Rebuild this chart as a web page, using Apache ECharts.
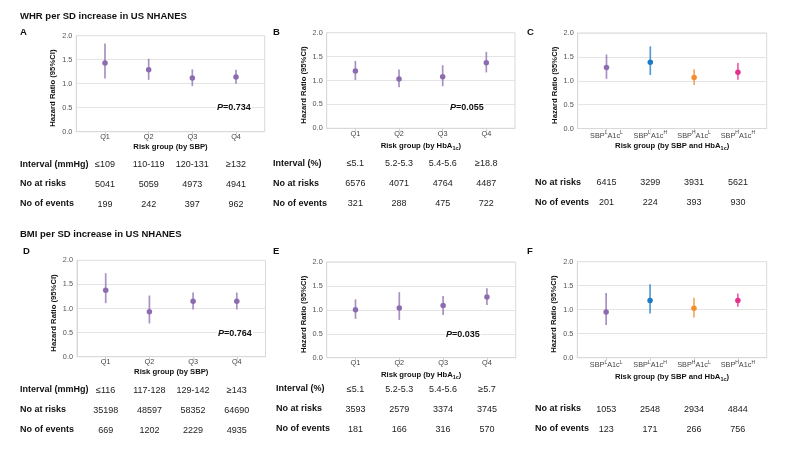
<!DOCTYPE html>
<html>
<head>
<meta charset="utf-8">
<script src="https://cdn.jsdelivr.net/npm/echarts@6/dist/echarts.min.js"></script>
<style>html,body{margin:0;padding:0;background:#fff}#c{width:800px;height:450px}</style>
</head>
<body>
<div id="c"></div>
<script>
// ---------- data ----------
const qCats = ['Q1', 'Q2', 'Q3', 'Q4'];
const comboCats = ['{a|SBP}{s|L}{a|A1c}{s|L}', '{a|SBP}{s|L}{a|A1c}{s|H}', '{a|SBP}{s|H}{a|A1c}{s|L}', '{a|SBP}{s|H}{a|A1c}{s|H}'];
const comboColors = ['#8c6bb1', '#1f7ac4', '#f28e2b', '#e4308f'];
const purple = '#8c6bb1';

const hrA = [1.43, 1.29, 1.12, 1.14], loA = [1.11, 1.08, 0.95, 1.00], hiA = [1.84, 1.52, 1.30, 1.29];
const hrB = [1.20, 1.03, 1.08, 1.37], loB = [1.01, 0.86, 0.88, 1.17], hiB = [1.41, 1.23, 1.32, 1.60];
const hrC = [1.28, 1.39, 1.07, 1.18], loC = [1.04, 1.12, 0.91, 1.02], hiC = [1.55, 1.72, 1.24, 1.37];
const hrD = [1.38, 0.93, 1.15, 1.15], loD = [1.11, 0.69, 0.98, 0.98], hiD = [1.73, 1.27, 1.33, 1.33];
const hrE = [1.00, 1.04, 1.09, 1.27], loE = [0.81, 0.79, 0.89, 1.10], hiE = [1.22, 1.37, 1.29, 1.45];
const hrF = [0.95, 1.19, 1.03, 1.19], loF = [0.68, 0.92, 0.84, 1.06], hiF = [1.35, 1.53, 1.25, 1.34];

const intervalA = ['≤109', '110-119', '120-131', '≥132'];
const risksA = ['5041', '5059', '4973', '4941'];
const eventsA = ['199', '242', '397', '962'];
const intervalB = ['≤5.1', '5.2-5.3', '5.4-5.6', '≥18.8'];
const risksB = ['6576', '4071', '4764', '4487'];
const eventsB = ['321', '288', '475', '722'];
const risksC = ['6415', '3299', '3931', '5621'];
const eventsC = ['201', '224', '393', '930'];
const intervalD = ['≤116', '117-128', '129-142', '≥143'];
const risksD = ['35198', '48597', '58352', '64690'];
const eventsD = ['669', '1202', '2229', '4935'];
const intervalE = ['≤5.1', '5.2-5.3', '5.4-5.6', '≥5.7'];
const risksE = ['3593', '2579', '3374', '3745'];
const eventsE = ['181', '166', '316', '570'];
const risksF = ['1053', '2548', '2934', '4844'];
const eventsF = ['123', '171', '266', '756'];

const pValues = ['0.734', '0.055', null, '0.764', '0.035', null];

// ---------- layout ----------
const FF = '"Liberation Sans", Arial, sans-serif';
const XMIN = 0.343, XMAX = 4.657;
const pos = [1, 2, 3, 4];

const panels = [
  {letter: 'A', grid: {left: 76.3, top: 35.7, width: 188.4, height: 96}, cats: qCats, combo: false,
   hr: hrA, lo: loA, hi: hiA, xname: 'Risk group (by SBP)', nameGap: 11.5,
   rows: [['Interval (mmHg)', intervalA, 28.5], ['No at risks', risksA, 48], ['No of events', eventsA, 68]]},
  {letter: 'B', grid: {left: 326.7, top: 32.7, width: 188.3, height: 95.6}, cats: qCats, combo: false,
   hr: hrB, lo: loB, hi: hiB, xname: '{n|Risk group (by HbA}{sub|1c}{n|)}', nameGap: 12,
   rows: [['Interval (%)', intervalB, 31], ['No at risks', risksB, 51], ['No of events', eventsB, 71]]},
  {letter: 'C', grid: {left: 577.7, top: 33, width: 189, height: 95.5}, cats: comboCats, combo: true,
   hr: hrC, lo: loC, hi: hiC, xname: '{n|Risk group (by SBP and HbA}{sub|1c}{n|)}', nameGap: 12,
   rows: [['No at risks', risksC, 50], ['No of events', eventsC, 70]]},
  {letter: 'D', grid: {left: 77, top: 260.3, width: 188.5, height: 96.4}, cats: qCats, combo: false,
   hr: hrD, lo: loD, hi: hiD, xname: 'Risk group (by SBP)', nameGap: 11,
   rows: [['Interval (mmHg)', intervalD, 29], ['No at risks', risksD, 49], ['No of events', eventsD, 69]]},
  {letter: 'E', grid: {left: 326.7, top: 262, width: 189, height: 95.7}, cats: qCats, combo: false,
   hr: hrE, lo: loE, hi: hiE, xname: '{n|Risk group (by HbA}{sub|1c}{n|)}', nameGap: 12,
   rows: [['Interval (%)', intervalE, 27], ['No at risks', risksE, 47], ['No of events', eventsE, 67]]},
  {letter: 'F', grid: {left: 577.3, top: 261.7, width: 189.4, height: 96}, cats: comboCats, combo: true,
   hr: hrF, lo: loF, hi: hiF, xname: '{n|Risk group (by SBP and HbA}{sub|1c}{n|)}', nameGap: 14,
   rows: [['No at risks', risksF, 47], ['No of events', eventsF, 67]]}
];

// pixel positions of free texts (titles, letters, row labels, P values)
const letterPos = [[20, 32], [273, 32], [527, 32], [23, 251], [273, 251], [527, 251]];
const rowLabelX = [20, 273, 535, 20, 276, 535];
const rowLabelY = [[165, 184, 204], [164, 184, 204], [183, 203], [390, 410, 430], [389, 409, 429], [409, 429]];
const pPos = [[216, 108], [449, 108], null, [217, 334], [445, 335], null];

const grids = [], xAxes = [], yAxes = [], series = [], graphics = [];

const labelRich = {
  a: {fontSize: 7.3, fontFamily: FF, color: '#444', lineHeight: 10},
  s: {fontSize: 5, fontFamily: FF, color: '#444', verticalAlign: 'top', lineHeight: 5}
};
const nameRich = {
  n: {fontSize: 7.7, fontWeight: 'bold', fontFamily: FF, color: '#111', lineHeight: 11},
  sub: {fontSize: 5.5, fontWeight: 'bold', fontFamily: FF, color: '#111', verticalAlign: 'bottom', lineHeight: 6}
};

panels.forEach((p, i) => {
  grids.push(Object.assign({show: true, borderColor: '#d9d9d9', borderWidth: 1, backgroundColor: 'transparent'}, p.grid));
  const cats = p.cats;
  xAxes.push({
    type: 'value', gridIndex: i, position: 'bottom', min: XMIN, max: XMAX,
    name: p.xname, nameLocation: 'middle', nameGap: p.nameGap,
    nameTextStyle: {fontSize: 7.7, fontWeight: 'bold', fontFamily: FF, color: '#111', rich: nameRich},
    axisLine: {show: true, lineStyle: {color: '#d9d9d9', width: 1}},
    axisTick: {show: true, customValues: pos, length: 3, lineStyle: {color: '#cfcfcf'}},
    axisLabel: {customValues: pos, margin: 2, fontSize: 7.3, fontFamily: FF, color: '#444',
      formatter: v => cats[Math.round(v) - 1] || '', rich: labelRich},
    splitLine: {show: false}
  });
  p.rows.forEach(r => {
    const vals = r[1];
    xAxes.push({
      type: 'value', gridIndex: i, position: 'bottom', offset: r[2], min: XMIN, max: XMAX,
      axisLine: {show: false}, axisTick: {show: false}, splitLine: {show: false},
      axisLabel: {customValues: pos, margin: 0, fontSize: 9, fontFamily: FF, color: '#222',
        formatter: v => vals[Math.round(v) - 1] || ''}
    });
  });
  yAxes.push({
    type: 'value', gridIndex: i, min: 0, max: 2, interval: 0.5,
    name: 'Hazard Ratio (95%CI)', nameLocation: 'middle', nameGap: 19,
    nameTextStyle: {fontSize: 7.7, fontWeight: 'bold', fontFamily: FF, color: '#111', padding: [0, 9, 0, 0]},
    axisLine: {show: true, lineStyle: {color: '#d9d9d9'}},
    axisTick: {show: false},
    axisLabel: {fontSize: 7.3, fontFamily: FF, color: '#555', margin: 4, formatter: v => v.toFixed(1)},
    splitLine: {show: true, lineStyle: {color: '#e4e4e4', width: 1}}
  });
});

// map each panel to its main xAxis index
let xi = 0;
const mainX = panels.map(p => { const idx = xi; xi += 1 + p.rows.length; return idx; });

panels.forEach((p, i) => {
  const colorOf = k => p.combo ? comboColors[k] : purple;
  series.push({
    type: 'custom', xAxisIndex: mainX[i], yAxisIndex: i, clip: false,
    data: pos.map((x, k) => ({value: [x, p.lo[k], p.hi[k]], itemStyle: {color: colorOf(k)}})),
    renderItem: (params, api) => {
      const a = api.coord([api.value(0), api.value(1)]);
      const b = api.coord([api.value(0), api.value(2)]);
      return {type: 'line', shape: {x1: a[0], y1: a[1], x2: b[0], y2: b[1]},
        style: {stroke: api.visual('color'), lineWidth: 1.7, opacity: 0.75}};
    },
    silent: true
  });
  series.push({
    type: 'scatter', xAxisIndex: mainX[i], yAxisIndex: i, symbol: 'circle', symbolSize: 5.5,
    data: pos.map((x, k) => ({value: [x, p.hr[k]], itemStyle: {color: colorOf(k), opacity: 1}})),
    silent: true, z: 3
  });

  // letter
  graphics.push({type: 'text', x: letterPos[i][0], y: letterPos[i][1],
    style: {text: p.letter, fontSize: 9.5, fontWeight: 'bold', fontFamily: FF, fill: '#111', verticalAlign: 'middle'}});
  // row labels
  p.rows.forEach((r, k) => {
    graphics.push({type: 'text', x: rowLabelX[i], y: rowLabelY[i][k],
      style: {text: r[0], fontSize: 9, fontWeight: 'bold', fontFamily: FF, fill: '#111', verticalAlign: 'middle'}});
  });
  // P value
  if (pValues[i]) {
    graphics.push({type: 'text', x: pPos[i][0], y: pPos[i][1], z: 10,
      style: {text: '{i|P}{b|=' + pValues[i] + '}', verticalAlign: 'middle',
        backgroundColor: '#ffffff', padding: [1, 1, 1, 1],
        rich: {i: {fontSize: 9, fontWeight: 'bold', fontStyle: 'italic', fontFamily: FF, fill: '#111'},
               b: {fontSize: 9, fontWeight: 'bold', fontFamily: FF, fill: '#111'}}}});
  }
});

graphics.push({type: 'text', x: 20, y: 16.7,
  style: {text: 'WHR per SD increase in US NHANES', fontSize: 9.5, fontWeight: 'bold', fontFamily: FF, fill: '#111', verticalAlign: 'middle'}});
graphics.push({type: 'text', x: 20, y: 234,
  style: {text: 'BMI per SD increase in US NHANES', fontSize: 9.5, fontWeight: 'bold', fontFamily: FF, fill: '#111', verticalAlign: 'middle'}});

const chart = echarts.init(document.getElementById('c'), null, {renderer: 'canvas'});
chart.setOption({
  animation: false,
  backgroundColor: '#ffffff',
  grid: grids,
  xAxis: xAxes,
  yAxis: yAxes,
  series: series,
  graphic: graphics
});
</script>
</body>
</html>
